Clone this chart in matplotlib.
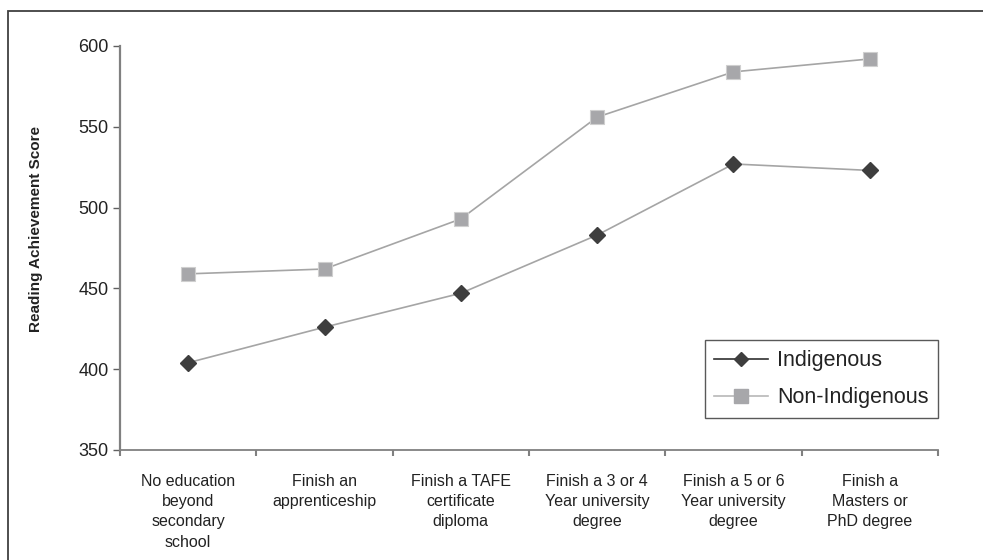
import matplotlib
matplotlib.use("Agg")
import matplotlib.pyplot as plt
from matplotlib.patches import Rectangle
from matplotlib.lines import Line2D

categories = ["No education\nbeyond\nsecondary\nschool", "Finish an\napprenticeship",
              "Finish a TAFE\ncertificate\ndiploma", "Finish a 3 or 4\nYear university\ndegree",
              "Finish a 5 or 6\nYear university\ndegree", "Finish a\nMasters or\nPhD degree"]
indigenous = [404, 426, 447, 483, 527, 523]
non_indigenous = [459, 462, 493, 556, 584, 592]
yticks = [350, 400, 450, 500, 550, 600]

plt.rcParams['font.family'] = ['Liberation Sans', 'DejaVu Sans']

W, H = 983, 560
fig = plt.figure(figsize=(W / 100, H / 100), dpi=100)
ax = fig.add_axes([120 / W, 1 - 450 / H, (938 - 120) / W, (450 - 46) / H])

x = list(range(len(categories)))
ax.plot(x, non_indigenous, color='#a5a5a5', lw=1.2, marker='s', markersize=10.5,
        markerfacecolor='#a7a7aa', markeredgecolor='#cfcfcf', markeredgewidth=0.8,
        label='Non-Indigenous', zorder=3)
ax.plot(x, indigenous, color='#a5a5a5', lw=1.2, marker='D', markersize=8,
        markerfacecolor='#3e3e3e', markeredgecolor='#3e3e3e', label='Indigenous', zorder=4)

ax.set_xlim(-0.5, len(categories) - 0.5)
ax.set_ylim(350, 600)
ax.set_yticks(yticks)
ax.set_yticklabels([str(v) for v in yticks], fontsize=13, color='#222222')
ax.set_xticks(x)
ax.set_xticklabels(categories, fontsize=11.5, linespacing=1.45, color='#222222')
ax.set_xticks([i - 0.5 for i in range(len(categories) + 1)], minor=True)
ax.tick_params(axis='x', which='major', length=0, pad=17)
ax.tick_params(axis='x', which='minor', length=4, width=1.5, color='#808080', direction='out')
ax.tick_params(axis='y', length=5, width=1.0, color='#606060', pad=3)

for s in ['top', 'right']:
    ax.spines[s].set_visible(False)
ax.spines['left'].set_color('#808080')
ax.spines['left'].set_linewidth(1.6)
ax.spines['bottom'].set_color('#808080')
ax.spines['bottom'].set_linewidth(1.3)

ax.set_ylabel('Reading Achievement Score', fontsize=11, fontweight='bold', color='#222222')
ax.yaxis.set_label_coords(43 / W, 1 - 229 / H, transform=fig.transFigure)

h1 = Line2D([], [], color='#303030', lw=1.2, marker='D', markersize=7,
            markerfacecolor='#3e3e3e', markeredgecolor='#3e3e3e')
h2 = Line2D([], [], color='#b8b8b8', lw=1.2, marker='s', markersize=10.5,
            markerfacecolor='#a7a7aa', markeredgecolor='#a7a7aa')
leg = ax.legend([h1, h2], ['Indigenous', 'Non-Indigenous'], loc='lower right',
                bbox_to_anchor=(938 / W, 1 - 418 / H), bbox_transform=fig.transFigure,
                prop={'size': 15.5}, frameon=True, fancybox=False, handlelength=2.5,
                borderpad=0.45, labelspacing=0.75, handletextpad=0.4, borderaxespad=0)
leg.get_frame().set_edgecolor('#303030')
leg.get_frame().set_linewidth(1.0)
for t in leg.get_texts():
    t.set_color('#222222')

fig.patches.append(Rectangle((8 / W, -0.05), 1.2, 1 - 11 / H + 0.05,
                             transform=fig.transFigure, fill=False,
                             edgecolor='#404040', lw=1.3))

fig.savefig('out.png', dpi=100)
